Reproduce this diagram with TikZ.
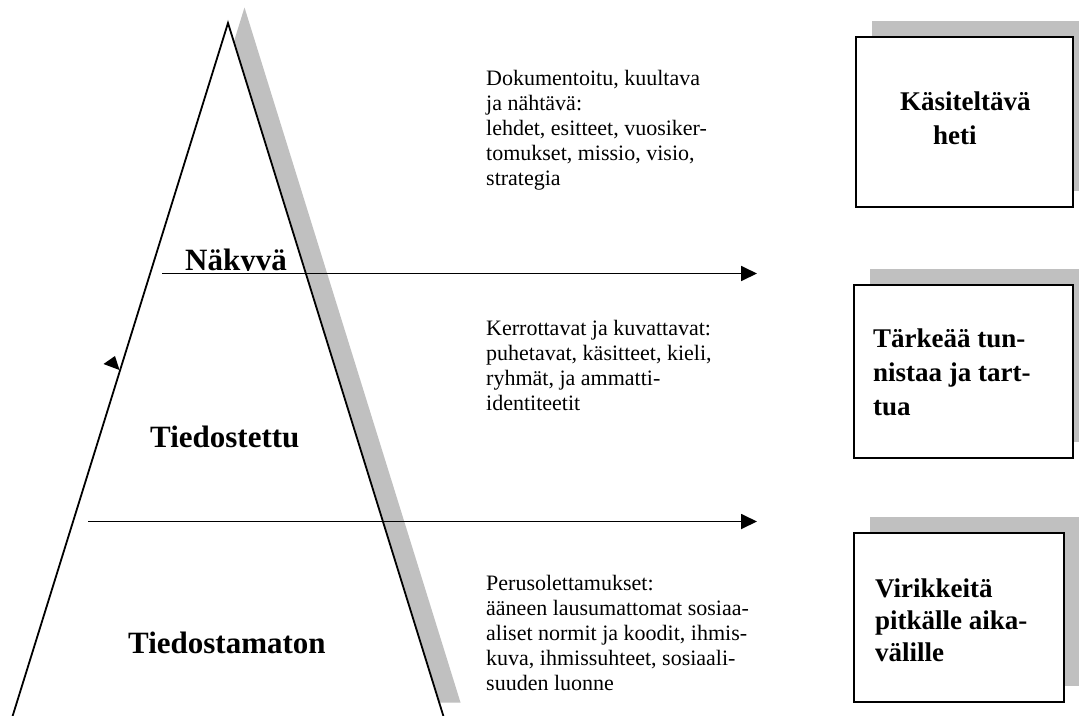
\documentclass[tikz,border=0pt]{standalone}
\usepackage{fontspec}
\setmainfont{Liberation Serif}
\usetikzlibrary{arrows.meta,shadows}
\definecolor{shadowgray}{RGB}{192,192,192}
\begin{document}
\begin{tikzpicture}[x=1pt,y=-1pt,
  triedge/.style={line width=1.8pt, line join=miter},
  arrowline/.style={line width=1.8pt, -{Triangle[length=16pt,width=15pt]}},
  desc/.style={anchor=north west, inner sep=0pt, align=left, font=\fontsize{22}{25}\selectfont},
  layerlabel/.style={anchor=base west, inner sep=0pt, font=\fontsize{31}{36}\selectfont\bfseries},
  boxtext/.style={anchor=base west, inner sep=0pt, font=\fontsize{27}{33}\selectfont\bfseries},
  panel/.style={draw, line width=2pt, fill=white, anchor=north west,
    drop shadow={shadow xshift=16pt, shadow yshift=16pt, fill=shadowgray, opacity=1}},
]
\useasboundingbox (0,0) rectangle (1079,715);
\fill[white] (0,0) rectangle (1079,715);

% pyramid
\coordinate (L) at (12,718);
\coordinate (A) at (228,23);
\coordinate (R) at (444,718);
\fill[shadowgray] (244.5,7.5) -- (460.5,702.5) -- (28.5,702.5) -- cycle;
\fill[white] (L) -- (A) -- (R) -- cycle;
\draw[triedge] (L) -- (A) -- (R);
\fill (103.5,364) -- (115,356) -- (119.5,370) -- cycle;

% arrows
\coordinate (a1s) at (162,273.5);
\coordinate (a1e) at (757,273.5);
\coordinate (a2s) at (88,521.5);
\coordinate (a2e) at (757,521.5);
\draw[arrowline] (a1s) -- (a1e);
\draw[arrowline] (a2s) -- (a2e);

% layer labels
\begin{scope}
\clip (150,200) rectangle (320,270.5);
\node[layerlabel] (nakyva) at (185,270) {Näkyvä};
\end{scope}
\node[layerlabel] (tiedostettu) at (150,447) {Tiedostettu};
\node[layerlabel] (tiedostamaton) at (128,653) {Tiedostamaton};

% descriptions
\node[desc] (d1) at (486,70) {Dokumentoitu, kuultava\\ja nähtävä:\\lehdet, esitteet, vuosiker-\\tomukset, missio, visio,\\strategia};
\node[desc] (d2) at (486,320) {Kerrottavat ja kuvattavat:\\puhetavat, käsitteet, kieli,\\ryhmät, ja ammatti-\\identiteetit};
\node[desc] (d3) at (486,575) {Perusolettamukset:\\ääneen lausumattomat sosiaa-\\aliset normit ja koodit, ihmis-\\kuva, ihmissuhteet, sosiaali-\\suuden luonne};

% boxes
\node[panel, minimum width=217pt, minimum height=170pt] (box1) at (855,36) {};
\node[panel, minimum width=219pt, minimum height=173pt] (box2) at (853,284) {};
\node[panel, minimum width=210pt, minimum height=169pt] (box3) at (853,532) {};

\node[boxtext] (t1a) at (900,110) {Käsiteltävä};
\node[boxtext] (t1b) at (933,144) {heti};
\node[boxtext] (t2a) at (873,347) {Tärkeää tun-};
\node[boxtext] (t2b) at (873,381) {nistaa ja tart-};
\node[boxtext] (t2c) at (873,415) {tua};
\node[boxtext] (t3a) at (875,597) {Virikkeitä};
\node[boxtext] (t3b) at (875,629) {pitkälle aika-};
\node[boxtext] (t3c) at (875,661) {välille};
\end{tikzpicture}
\end{document}
